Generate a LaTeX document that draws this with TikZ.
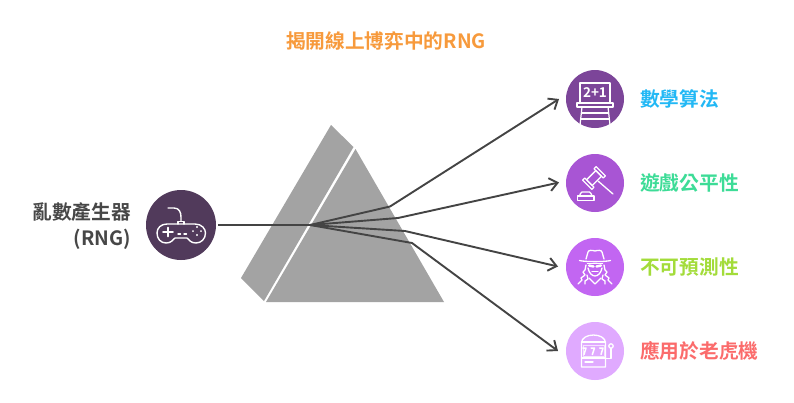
\documentclass[tikz,border=0pt]{standalone}
\usepackage{fontspec}
\usetikzlibrary{arrows.meta}
\setmainfont{Noto Sans CJK TC}[BoldFont={Noto Sans CJK TC Bold}]
\definecolor{cTitle}{HTML}{F79A3C}
\definecolor{cPrism}{HTML}{A3A3A3}
\definecolor{cLine}{HTML}{444444}
\definecolor{cGame}{HTML}{513A5B}
\definecolor{cA}{HTML}{7C4599}
\definecolor{cB}{HTML}{A855D4}
\definecolor{cC}{HTML}{C266F2}
\definecolor{cD}{HTML}{E0AAFF}
\definecolor{tA}{HTML}{22B8F5}
\definecolor{tB}{HTML}{3DDC97}
\definecolor{tC}{HTML}{A3DC3A}
\definecolor{tD}{HTML}{FB6B6B}
\tikzset{
  badge/.style={circle,minimum size=58pt,inner sep=0pt,outer sep=0pt},
  label/.style={anchor=west,font=\fontsize{19.7}{22}\selectfont\bfseries,inner sep=0pt},
  ray/.style={draw=cLine,line width=1.9pt,line join=round},
  tip/.style={ray,-{Straight Barb[length=8pt,width=13pt,line width=1.9pt]}},
  ico/.style={draw=white,line width=1.4pt,line join=round,line cap=round},
}
\begin{document}
\begin{tikzpicture}[x=1pt,y=-1pt]
\useasboundingbox (0,0) rectangle (794,402);
\fill[white] (0,0) rectangle (794,402);
\node[font=\fontsize{19.7}{22}\selectfont\bfseries,text=cTitle,inner sep=0pt] (title) at (386,41) {揭開線上博弈中的RNG};

% prism
\fill[cPrism] (331,125) -- (353.5,147) -- (264,301) -- (241,278) -- cycle;
\fill[cPrism] (355.5,149) -- (444,302) -- (266,302) -- cycle;

% nodes
\node[circle,minimum size=70pt,inner sep=0pt,outer sep=2pt,fill=cGame] (game) at (181,225) {};
\node[badge,fill=cA] (n1) at (595,99) {};
\node[badge,fill=cB] (n2) at (595,183) {};
\node[badge,fill=cC] (n3) at (595,267) {};
\node[badge,fill=cD] (n4) at (595,351) {};

\node[anchor=east,align=right,font=\fontsize{19.7}{25.5}\selectfont\bfseries,text=black!72,inner sep=0pt] (src) at (131,226) {亂數產生器\\(RNG)};
\node[label,text=tA] (l1) at (640,99) {數學算法};
\node[label,text=tB] (l2) at (640,183) {遊戲公平性};
\node[label,text=tC] (l3) at (640,267) {不可預測性};
\node[label,text=tD] (l4) at (640,351) {應用於老虎機};

% connectors
\coordinate (j) at (310,225);
\coordinate (b1) at (390,206.5);
\coordinate (b2) at (398,218);
\coordinate (b3) at (405,231);
\coordinate (b4) at (412,243);
\coordinate (e1) at (559,99);
\coordinate (e2) at (559,182.5);
\coordinate (e3) at (558,266.5);
\coordinate (e4) at (558,351);
\draw[ray] (game.east) -- (j);
\draw[tip] (j) -- (b1) -- (e1);
\draw[tip] (j) -- (b2) -- (e2);
\draw[tip] (j) -- (b3) -- (e3);
\draw[tip] (j) -- (b4) -- (e4);

% controller
\begin{scope}[ico]
\draw (168,208) -- (174,208) .. controls (179,208) and (181,212) .. (181,217) -- (181,221);
\draw (178,224) -- (178,221.5) -- (184,221.5) -- (184,224);
\draw (167,224) -- (195,224) .. controls (202,224) and (205.5,229) .. (205.5,233) .. controls (205.5,239) and (201,243) .. (196,243) .. controls (191,243) and (189,240) .. (187,238) -- (175,238) .. controls (173,240) and (171,243) .. (166,243) .. controls (161,243) and (157,239) .. (157,233) .. controls (157,228) and (161,224) .. (167,224) -- cycle;
\draw[line width=1.6pt] (163,232) -- (173,232) (168,227.5) -- (168,236.5);
\draw (178,234) -- (180.5,234) (184,234) -- (186.5,234);
\draw[line width=1.8pt] (197,226.8) -- (197,227.2) (197,234.8) -- (197,235.2) (193,231) -- (193,231.2) (201,231) -- (201,231.2);
\end{scope}

% board
\begin{scope}[ico,line width=1.2pt]
\draw (580,103) -- (580,83) -- (610,83) -- (610,103);
\draw (577,103) rectangle (613,107);
\draw (582,107) -- (580,125) (608,107) -- (610,125);
\draw (581.5,113) -- (608.5,113) (581,119) -- (609,119);
\node[text=white,inner sep=0pt,font=\fontsize{13.5}{14}\selectfont\bfseries] (sum) at (595,93) {2+1};
\end{scope}

% gavel
\begin{scope}[ico,line width=1.3pt]
\draw (598,181) -- (613,194);
\begin{scope}[shift={(594,178)},rotate=-45]
\draw (-4,-6.5) rectangle (4,6.5);
\draw (-6.5,-9.5) rectangle (6.5,-6.5);
\draw (-6.5,6.5) rectangle (6.5,9.5);
\end{scope}
\draw (577.5,196) rectangle (594,200.5);
\draw (579.5,196) -- (580.5,193.5) .. controls (580.8,192.5) and (581,192) .. (582,192) -- (589.5,192) .. controls (590.5,192) and (590.8,192.5) .. (591,193.5) -- (592,196);
\end{scope}

% spy
\begin{scope}[ico,line width=1.3pt]
\draw (579.5,260.5) .. controls (585,262) and (605,262) .. (610.5,260.5);
\draw (586,259) -- (588,252) .. controls (588.5,250) and (592,250) .. (595,251) .. controls (598,250) and (601.5,250) .. (602,252) -- (604,259);
\draw[line width=2.4pt] (589,265.5) -- (593.5,266.5) (596.5,266.5) -- (601,265.5);
\draw (587.5,263.5) -- (602.5,263.5);
\draw (588,268) .. controls (589,273) and (592,276) .. (595,276) .. controls (598,276) and (601,273) .. (602,268);
\draw (592,271.5) -- (598,271.5);
\draw (589,278) -- (595,284) -- (601,278);
\draw (586,265) -- (585,270) -- (583,272) -- (585,275) -- (581,278) -- (582,280) -- (578,284);
\draw (604,265) -- (605,270) -- (607,272) -- (605,275) -- (609,278) -- (608,280) -- (612,284);
\draw (587,275) -- (588,279) -- (585,281) -- (585,284) (603,275) -- (602,279) -- (605,281) -- (605,284);
\end{scope}

% slot machine
\begin{scope}[ico,line width=1.3pt]
\draw (581.5,367) -- (581.5,343) .. controls (581.5,338) and (587,335) .. (593.5,335) .. controls (600,335) and (605.5,338) .. (605.5,343) -- (605.5,367) -- cycle;
\draw (581.5,342) -- (605.5,342) (581.5,358) -- (605.5,358);
\draw[line width=.6pt,white!70!cD] (583,345.5) rectangle (604,356);
\draw[line width=1.5pt] (582.8,348) -- (586,348) -- (584,354.5) (591,348) -- (594.5,348) -- (592.3,354.5) (599.5,348) -- (603,348) -- (601,354.5);
\draw (585,362) -- (593,362);
\draw (605.5,358.5) -- (611,358.5) -- (611,348.5);
\draw (611,346) circle[radius=2.2];
\end{scope}
\end{tikzpicture}
\end{document}
